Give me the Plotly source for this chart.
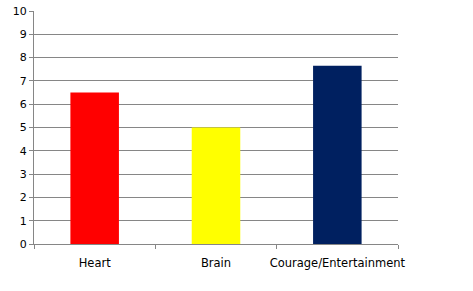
import plotly.graph_objects as go

categories = ["Heart", "Brain", "Courage/Entertainment"]
values = [6.5, 5.0, 7.65]
colors = ["#FF0000", "#FFFF00", "#002060"]
y_ticks = list(range(0, 11))

fig = go.Figure(go.Bar(x=categories, y=values, marker=dict(color=colors, line=dict(width=0))))
fig.update_layout(
    width=473, height=291,
    margin=dict(l=34, r=75, t=11, b=47, autoexpand=False),
    paper_bgcolor="white", plot_bgcolor="white",
    bargap=0.6, showlegend=False,
    font=dict(family="DejaVu Sans", size=11, color="#000000"),
)
fig.update_xaxes(
    type="category", tickson="boundaries", ticks="outside", ticklen=4,
    tickcolor="#868686", showline=True, linecolor="#868686", linewidth=1,
    showgrid=False, tickangle=0, automargin=False, tickfont=dict(size=11.5),
    ticklabelstandoff=8,
)
fig.update_yaxes(
    range=[0, 10], tickvals=y_ticks, ticks="outside", ticklen=4,
    tickcolor="#868686", showline=True, linecolor="#868686", linewidth=1,
    showgrid=True, gridcolor="#868686", gridwidth=1, zeroline=False,
    automargin=False, tickfont=dict(size=11),
)
fig.write_html("out.html")
